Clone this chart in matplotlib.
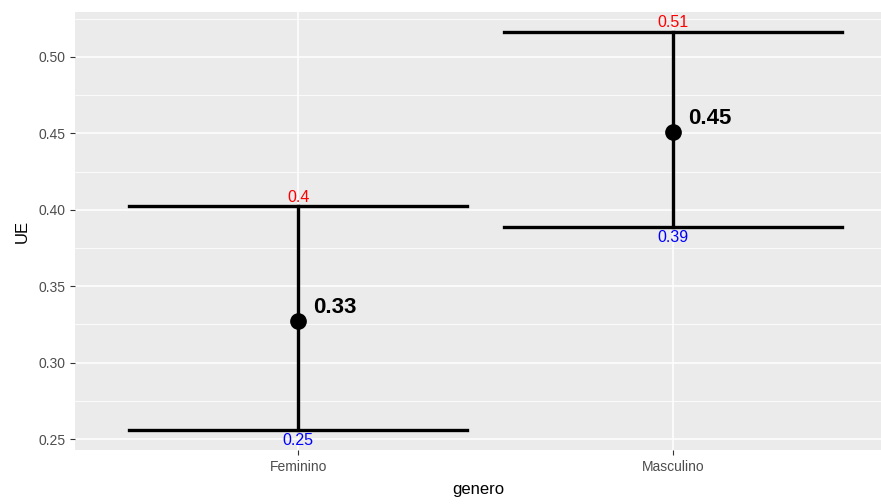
import matplotlib
matplotlib.use("Agg")
import matplotlib.pyplot as plt

plt.rcParams['font.family'] = ['Liberation Sans', 'DejaVu Sans']

generos = ['Feminino', 'Masculino']
media = [0.3275, 0.4509]
superior = [0.4022, 0.5165]
inferior = [0.2560, 0.3889]
lab_media = ['0.33', '0.45']
lab_sup = ['0.4', '0.51']
lab_inf = ['0.25', '0.39']

fig = plt.figure(figsize=(8.81, 5.04), dpi=100)
ax = fig.add_axes([0.0851, 0.1071, 0.9149, 0.8691])
ax.set_facecolor('#EBEBEB')

x = [1, 2]
ax.set_xlim(0.405, 2.554)
ax.set_ylim(0.2428, 0.5294)

yt = [0.25, 0.30, 0.35, 0.40, 0.45, 0.50]
ax.set_yticks(yt)
ax.set_yticklabels(['%.2f' % v for v in yt])
ax.set_yticks([0.275, 0.325, 0.375, 0.425, 0.475, 0.525], minor=True)
ax.set_xticks(x)
ax.set_xticklabels(generos)

ax.grid(which='major', color='white', linewidth=1.1)
ax.grid(which='minor', axis='y', color='white', linewidth=0.55)
ax.set_axisbelow(True)
for s in ax.spines.values():
    s.set_visible(False)
ax.tick_params(which='major', colors='#333333', length=3.5, width=0.8,
               labelsize=10, labelcolor='#4D4D4D')
ax.tick_params(which='minor', length=0)

w = 0.45
for i in range(2):
    xi = x[i]
    ax.plot([xi, xi], [inferior[i], superior[i]], color='black', lw=2.4, zorder=3)
    ax.plot([xi - w, xi + w], [superior[i], superior[i]], color='black', lw=2.4, zorder=3)
    ax.plot([xi - w, xi + w], [inferior[i], inferior[i]], color='black', lw=2.4, zorder=3)
    ax.plot(xi, media[i], 'o', color='black', markersize=11, zorder=4)
    ax.annotate(lab_media[i], (xi, media[i]), xytext=(11, 2), textcoords='offset points',
                fontsize=16, fontweight='bold', ha='left', va='bottom')
    ax.annotate(lab_sup[i], (xi, superior[i]), xytext=(0, 1), textcoords='offset points',
                fontsize=11.5, color='red', ha='center', va='bottom')
    ax.annotate(lab_inf[i], (xi, inferior[i]), xytext=(0, -2), textcoords='offset points',
                fontsize=11.5, color='blue', ha='center', va='top')

ax.set_xlabel('genero', fontsize=12, labelpad=6)
ax.set_ylabel('UE', fontsize=12, labelpad=6)

fig.savefig('out.png', dpi=100)
